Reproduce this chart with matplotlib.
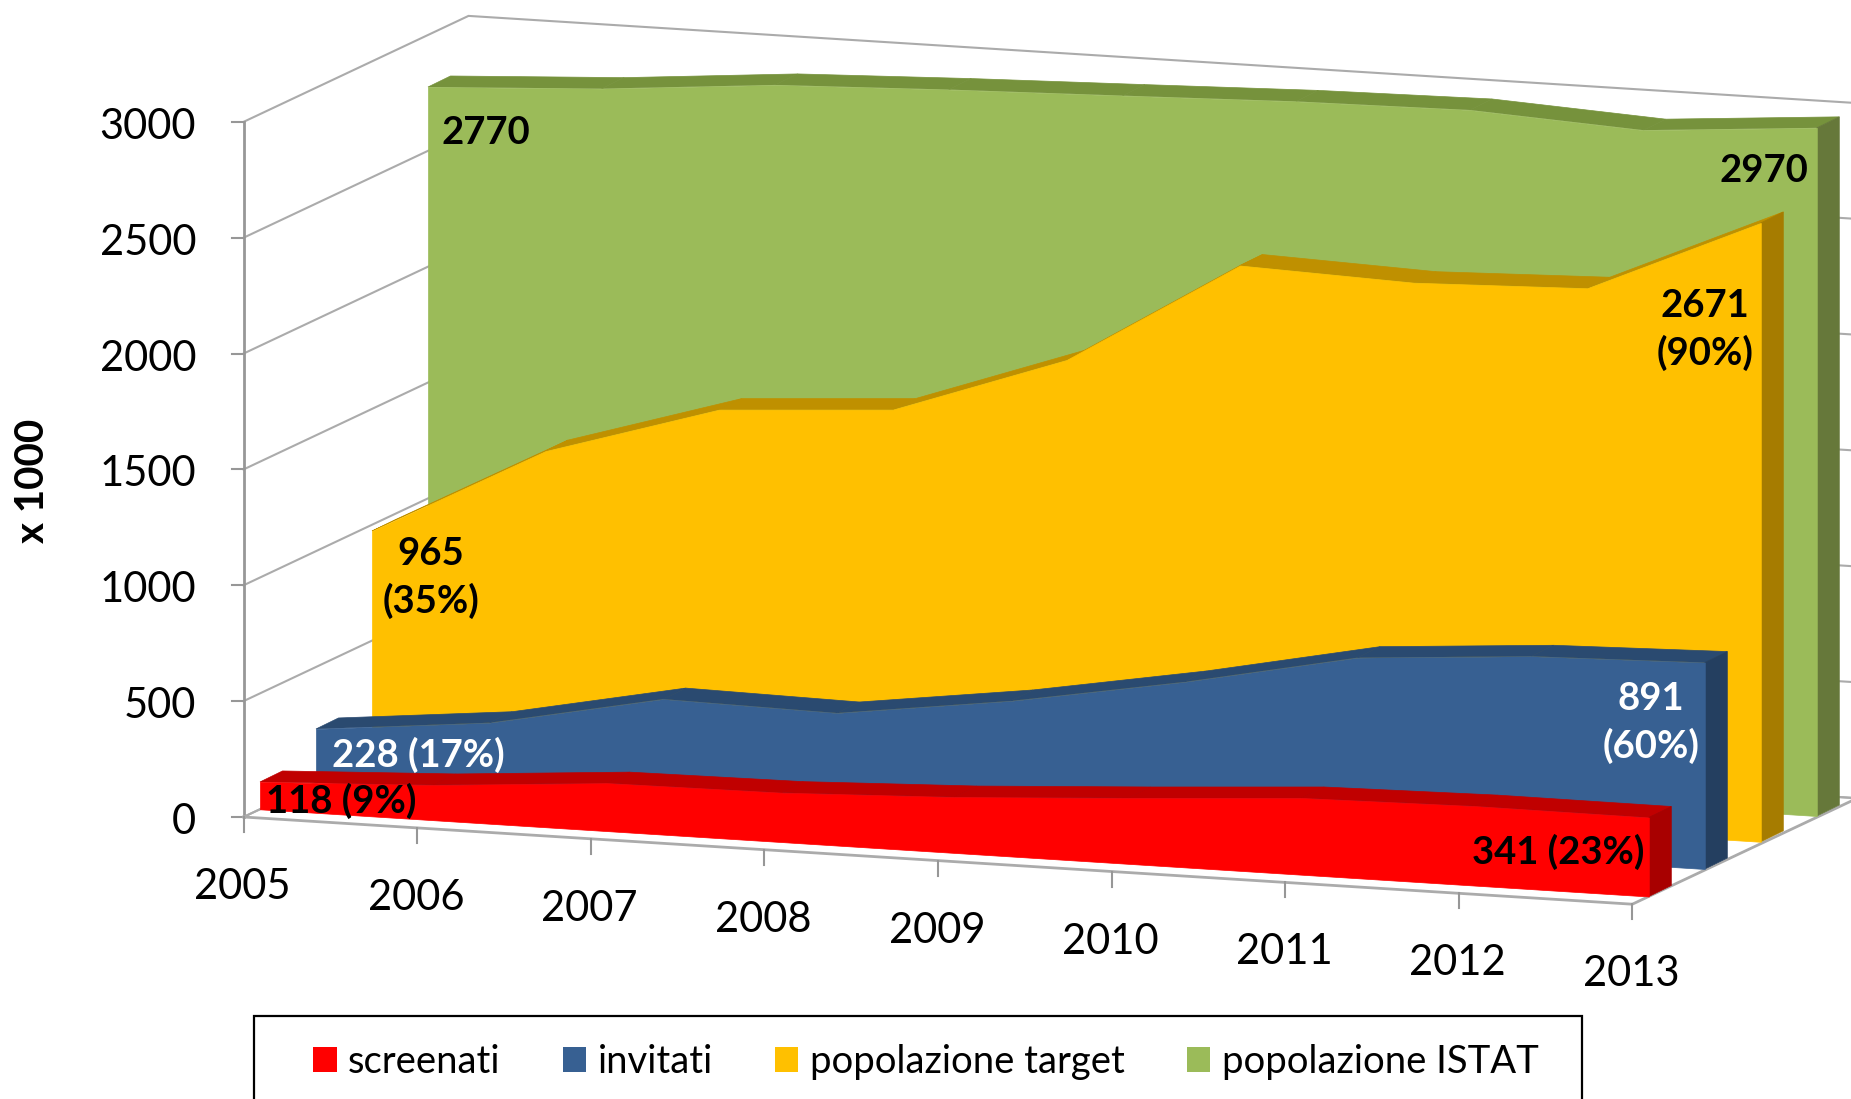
import numpy as np
import matplotlib
matplotlib.use("Agg")
import matplotlib.pyplot as plt
from matplotlib.patches import Polygon, Rectangle, Patch
from matplotlib.transforms import Affine2D

years = [2005, 2006, 2007, 2008, 2009, 2010, 2011, 2012, 2013]
screenati = [118, 152, 207, 213, 241, 284, 331, 343, 341]
invitati = [228, 302, 451, 438, 537, 666, 818, 871, 891]
target = [965, 1357, 1583, 1630, 1891, 2346, 2319, 2342, 2671]
istat = [2770, 2810, 2873, 2900, 2921, 2943, 2953, 2913, 2970]
value_ticks = [0, 500, 1000, 1500, 2000, 2500, 3000]
legend_labels = ["screenati", "invitati", "popolazione target", "popolazione ISTAT"]

plt.rcParams['font.family'] = ['Lato', 'DejaVu Sans']
W, H = 1851, 1099
fig = plt.figure(figsize=(W / 100, H / 100), dpi=100)
ax = fig.add_axes([0, 0, 1, 1])
ax.set_axis_off()

STEP, SLOPE, SCALE = 173.6, 10.9, 0.2317
DEPTH = np.array([22.5, -11.0])
WALL = np.array([225.0, -106.0])


def plane(x0, y0):
    """(year, value) -> pixel position on a vertical plane whose 2005 floor point is x0, y0."""
    return Affine2D.from_values(STEP, SLOPE, 0, -SCALE, x0 - 2005 * STEP, y0 - 2005 * SLOPE)


front_plane = plane(243.5, 817.0)
GRID = '#ABABAB'
AXISC = '#979797'

# walls
for v in value_ticks:
    a = front_plane.transform((2005, v))
    b = a + WALL
    c = front_plane.transform((2013, v)) + WALL
    ax.plot([a[0], b[0], c[0]], [a[1], b[1], c[1]], color=GRID, lw=1.5, solid_joinstyle='miter', zorder=1)
    ax.plot([a[0] - 12, a[0]], [a[1], a[1]], color=AXISC, lw=1.5, zorder=1)

p0 = front_plane.transform((2005, 0))
p3 = front_plane.transform((2005, 3000))
ax.plot([p3[0], p0[0]], [p3[1], p0[1]], color=AXISC, lw=2, zorder=1)
pe = front_plane.transform((2013, 0))
ax.plot([p0[0], pe[0], pe[0] + WALL[0]], [p0[1], pe[1], pe[1] + WALL[1]], color=GRID, lw=2, zorder=1)
ax.plot([p0[0] + WALL[0], pe[0] + WALL[0]], [p0[1] + WALL[1], pe[1] + WALL[1]], color=GRID, lw=1.5, zorder=1)
ax.plot([p0[0], p0[0] + WALL[0]], [p0[1], p0[1] + WALL[1]], color=GRID, lw=1.5, zorder=1)
for yr in years:
    t = front_plane.transform((yr, 0))
    ax.plot([t[0], t[0]], [t[1], t[1] + 15], color=AXISC, lw=1.5, zorder=1)
    ax.text(t[0] - 1, t[1] + 70, str(yr), ha='center', va='center', fontsize=30, color='black')

for v in value_ticks:
    t = front_plane.transform((2005, v))
    ax.text(196, t[1] + 5, str(v), ha='right', va='center', fontsize=30, color='black')

ax.text(33, 481, 'x 1000', rotation=90, ha='center', va='center', fontsize=29, fontweight='bold', color='black')

# series, back to front
series = [
    (istat, 428.0, 728.8, '#9BBB59', '#76923C', '#66783A', 5),
    (target, 372.0, 754.6, '#FFC000', '#BF9000', '#A67C00', 6),
    (invitati, 316.0, 781.8, '#376092', '#2A4A70', '#243F60', 7),
    (screenati, 260.0, 809.3, '#FF0000', '#C00000', '#A80000', 8),
]
for vals, x0, y0, face, top, side, z in series:
    tf = plane(x0, y0)
    pts = tf.transform(np.column_stack([years, vals]))
    # top surface
    for i in range(len(pts) - 1):
        quad = [pts[i], pts[i + 1], pts[i + 1] + DEPTH, pts[i] + DEPTH]
        ax.add_patch(Polygon(quad, closed=True, fc=top, ec=top, lw=0.5, zorder=z))
    # right end
    end_top = pts[-1]
    end_base = tf.transform((years[-1], 0))
    ax.add_patch(Polygon([end_top, end_top + DEPTH, end_base + DEPTH, end_base], closed=True,
                         fc=side, ec=side, lw=0.5, zorder=z))
    # front face
    ax.fill_between(years, vals, 0, transform=tf + ax.transData, color=face, lw=0.5, zorder=z + 0.5)

# data labels
LBL = dict(ha='center', va='center', fontsize=27.5, fontweight='bold', zorder=20)
ax.text(486, 133, '2770', color='black', **LBL)
ax.text(1764, 171, '2970', color='black', **LBL)
ax.text(431, 578, '965\n(35%)', color='black', linespacing=1.42, **LBL)
ax.text(1705, 330, '2671\n(90%)', color='black', linespacing=1.42, **LBL)
ax.text(1651, 723, '891\n(60%)', color='white', linespacing=1.42, **LBL)
ax.text(418, 755, '228 (17%)', color='white', **LBL)
ax.text(341, 801, '118 (9%)', color='black', **LBL)
ax.text(1558, 852, '341 (23%)', color='black', **LBL)

# legend
ax.add_patch(Rectangle((254, 1016), 1328, 120, fc='white', ec='black', lw=1.6, zorder=15))
handles = [Patch(fc=s[3], ec='none') for s in series[::-1]]
leg = ax.legend(handles, legend_labels, ncol=4, frameon=False, fontsize=27.5,
                loc='center left', bbox_to_anchor=(313 / W, 1 - 1062 / H),
                bbox_transform=fig.transFigure, borderpad=0, borderaxespad=0,
                handlelength=0.62, handleheight=0.62, handletextpad=0.3, columnspacing=1.62)
leg.set_zorder(16)

ax.set_xlim(0, W)
ax.set_ylim(H, 0)
fig.savefig('out.png', dpi=100, facecolor='white')
